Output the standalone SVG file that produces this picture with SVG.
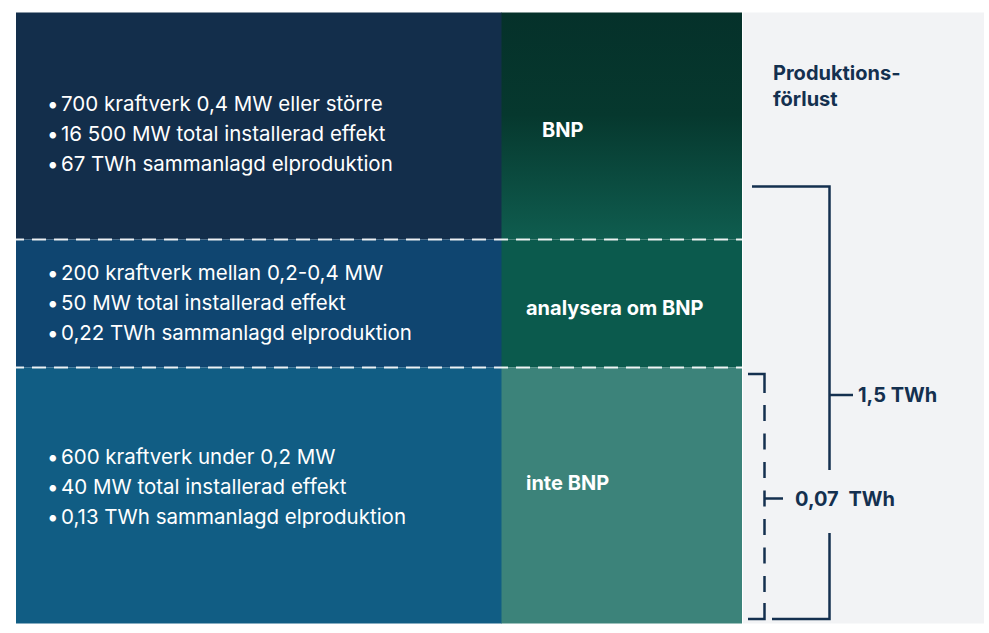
<svg xmlns="http://www.w3.org/2000/svg" width="989" height="633" viewBox="0 0 989 633">
<defs>
<linearGradient id="gTop" x1="0" y1="0" x2="0" y2="1">
<stop offset="0" stop-color="#05312a"/>
<stop offset="0.45" stop-color="#06382e"/>
<stop offset="1" stop-color="#0f5d4f"/>
</linearGradient>
<style>
.bul{font-family:Inter,"Open Sans","Liberation Sans",sans-serif;font-size:20.5px;fill:#ffffff}
.lab{font-family:Inter,"Open Sans","Liberation Sans",sans-serif;font-size:20px;font-weight:bold;fill:#ffffff}
.dk{font-family:Inter,"Open Sans","Liberation Sans",sans-serif;font-size:20px;font-weight:bold;fill:#14304f}
.sep{stroke:#ffffff;stroke-width:2;stroke-dasharray:14 8;fill:none;opacity:0.9}
.br{stroke:#14304f;stroke-width:2.5;fill:none}
</style>
</defs>
<rect x="0" y="0" width="989" height="633" fill="#ffffff"/>
<rect x="743" y="12.5" width="241" height="611" fill="#f2f3f5"/>

<g id="row-large">
<rect x="16" y="12.5" width="486" height="227" fill="#132e4b"/>
<text class="bul" y="111"><tspan x="47">•</tspan><tspan x="61">700 kraftverk 0,4 MW eller större</tspan></text>
<text class="bul" y="141"><tspan x="47">•</tspan><tspan x="61">16 500 MW total installerad effekt</tspan></text>
<text class="bul" y="171"><tspan x="47">•</tspan><tspan x="61">67 TWh sammanlagd elproduktion</tspan></text>
</g>
<g id="row-mid">
<rect x="16" y="239.5" width="486" height="128" fill="#0f4570"/>
<text class="bul" y="280"><tspan x="47">•</tspan><tspan x="61">200 kraftverk mellan 0,2-0,4 MW</tspan></text>
<text class="bul" y="310"><tspan x="47">•</tspan><tspan x="61">50 MW total installerad effekt</tspan></text>
<text class="bul" y="340"><tspan x="47">•</tspan><tspan x="61">0,22 TWh sammanlagd elproduktion</tspan></text>
</g>
<g id="row-small">
<rect x="16" y="367.5" width="486" height="256" fill="#115d84"/>
<text class="bul" y="464"><tspan x="47">•</tspan><tspan x="61">600 kraftverk under 0,2 MW</tspan></text>
<text class="bul" y="494"><tspan x="47">•</tspan><tspan x="61">40 MW total installerad effekt</tspan></text>
<text class="bul" y="524"><tspan x="47">•</tspan><tspan x="61">0,13 TWh sammanlagd elproduktion</tspan></text>
</g>

<g id="bnp">
<rect x="501.5" y="12.5" width="240.5" height="227" fill="url(#gTop)"/>
<text class="lab" x="542" y="137">BNP</text>
</g>
<g id="analysera">
<rect x="501.5" y="239.5" width="240.5" height="128" fill="#0b5a4d"/>
<text class="lab" x="526" y="315">analysera om BNP</text>
</g>
<g id="inte-bnp">
<rect x="501.5" y="367.5" width="240.5" height="256" fill="#3c837a"/>
<text class="lab" x="526" y="490">inte BNP</text>
</g>

<g id="title">
<text class="dk" x="773" y="80">Produktions-</text>
<text class="dk" x="773" y="106">förlust</text>
</g>

<g id="connectors">
<line class="sep" x1="10" y1="239.5" x2="742" y2="239.5"/>
<line class="sep" x1="10" y1="367.5" x2="742" y2="367.5"/>
<path class="br" d="M752 186.5 H829.5 V470"/>
<path class="br" d="M829.5 533 V619 H772"/>
<path class="br" d="M829.5 395 H853"/>
<path class="br" d="M748 374 H764.5 V393"/>
<path class="br" d="M748 619 H764.5 V603"/>
<path class="br" d="M764.5 405 V592" stroke-dasharray="16 12.5"/>
<path class="br" d="M764.5 498.5 H783"/>
</g>
<g id="label-15">
<text class="dk" x="858" y="402">1,5 TWh</text>
</g>
<g id="label-007">
<text class="dk" x="795" y="506" word-spacing="5">0,07 TWh</text>
</g>
</svg>
